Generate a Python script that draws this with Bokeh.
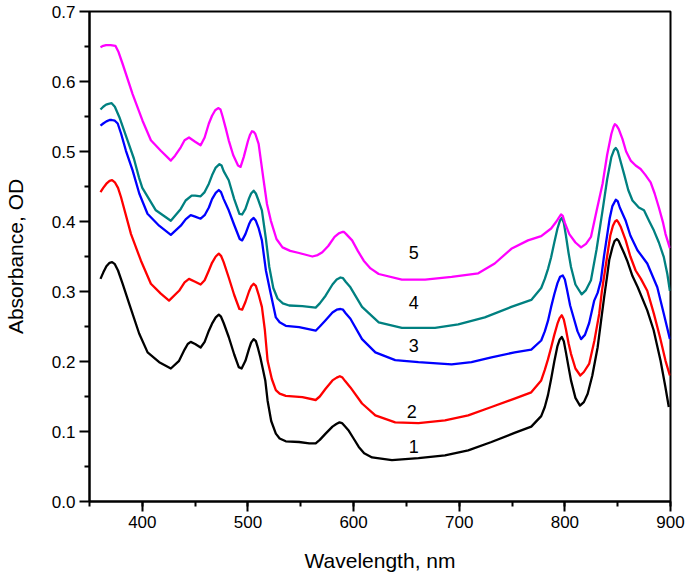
from bokeh.plotting import figure
from bokeh.models import Range1d, FixedTicker, PrintfTickFormatter, ColumnDataSource
from bokeh.embed import file_html
from bokeh.resources import INLINE
from bokeh.core.properties import value

FONT = "Liberation Sans"

# ---- data ----
wl1 = [360.4, 363, 366, 369, 371.4, 374, 377, 381.4, 387.7, 397, 405, 416, 427, 434.8, 440, 443, 445.8, 450, 455.2,
       459, 463, 466, 469.5, 472.4, 474.5, 477, 481.8, 487, 491.3, 494, 497.6, 501, 503, 505.4, 507.5, 509.5, 511.7,
       514, 516.4, 518.6, 522, 526.4, 530, 535.8, 548.4, 558, 564.1, 568, 573.5, 580, 584, 586.7, 589, 592,
       595.5, 600, 604.9, 610, 617.5, 636.3, 661.4, 686.5, 708.5, 730.5, 752.4, 768.2, 777.6, 781, 784, 787,
       790, 793, 795, 797.1, 799, 801, 803.5, 805.8, 810, 814.3, 818, 821.6, 826, 831, 834, 837.2, 840, 842,
       845, 847, 849.2, 851, 853, 856, 859, 864, 869, 878, 884, 890.6, 895, 898.4]
od1 = [0.318, 0.327, 0.336, 0.341, 0.342, 0.339, 0.330, 0.311, 0.282, 0.240, 0.213, 0.199, 0.190, 0.201, 0.217,
       0.225, 0.228, 0.225, 0.220, 0.228, 0.244, 0.254, 0.263, 0.267, 0.264, 0.255, 0.235, 0.210, 0.192, 0.190,
       0.201, 0.218, 0.227, 0.232, 0.229, 0.219, 0.206, 0.190, 0.173, 0.144, 0.115, 0.097, 0.090, 0.086, 0.085,
       0.083, 0.083, 0.088, 0.097, 0.107, 0.111, 0.113, 0.112, 0.107, 0.101, 0.090, 0.078, 0.069, 0.063, 0.059,
       0.062, 0.066, 0.073, 0.085, 0.098, 0.107, 0.122, 0.135, 0.152, 0.175, 0.200, 0.222, 0.231, 0.235, 0.229,
       0.213, 0.192, 0.173, 0.148, 0.137, 0.142, 0.154, 0.180, 0.220, 0.255, 0.292, 0.322, 0.345, 0.363, 0.372,
       0.375, 0.372, 0.365, 0.355, 0.344, 0.322, 0.306, 0.273, 0.245, 0.201, 0.165, 0.135]

wl2 = [360.4, 363, 366, 369, 371.4, 374, 377, 379.8, 389.3, 398.7, 408.1, 417.5, 425.3, 434.8, 440, 444.2, 450,
       455.2, 459, 463, 466, 469.5, 472.4, 474.5, 477, 481.8, 487, 491.9, 494.5, 497.6, 501, 503, 505.4, 507.5,
       510, 513.2, 516, 518.6, 522.6, 526.4, 530, 535.8, 551.5, 564.1, 568, 573.5, 580, 584, 587, 589.5, 592,
       597, 608, 620.6, 639.4, 661.4, 686.5, 708.5, 730.5, 752.4, 768.2, 777.6, 781, 784, 787, 790, 793, 795,
       797.1, 799, 801, 803.5, 805.8, 810, 814.6, 818, 823.1, 828, 832.5, 835, 838, 841, 843, 845.5, 847.5,
       849.2, 851, 853, 857.6, 862, 867, 872, 878, 884.3, 890, 895.3, 899.4]
od2 = [0.442, 0.448, 0.454, 0.458, 0.459, 0.456, 0.448, 0.435, 0.382, 0.344, 0.311, 0.297, 0.287, 0.301, 0.313,
       0.318, 0.314, 0.310, 0.316, 0.330, 0.341, 0.350, 0.354, 0.351, 0.342, 0.320, 0.295, 0.275, 0.274, 0.285,
       0.300, 0.307, 0.311, 0.308, 0.296, 0.278, 0.245, 0.201, 0.175, 0.159, 0.154, 0.151, 0.149, 0.145, 0.150,
       0.161, 0.173, 0.177, 0.179, 0.177, 0.172, 0.163, 0.140, 0.123, 0.113, 0.112, 0.116, 0.123, 0.135, 0.147,
       0.156, 0.173, 0.188, 0.203, 0.220, 0.238, 0.254, 0.262, 0.266, 0.260, 0.246, 0.226, 0.211, 0.190, 0.180,
       0.185, 0.197, 0.230, 0.268, 0.300, 0.330, 0.360, 0.380, 0.394, 0.400, 0.402, 0.398, 0.392, 0.373, 0.350,
       0.330, 0.318, 0.301, 0.268, 0.235, 0.201, 0.180]

wl3 = [360.4, 363, 366, 369, 371, 374, 376.7, 380, 384.5, 390.8, 397.1, 404.9, 415.9, 427, 436.4, 441, 445.8,
       450, 455.2, 459, 463, 466, 469.5, 472.4, 474.5, 477, 481.8, 487, 492.2, 494.5, 497.6, 501, 503, 505.4,
       507.5, 510, 513.2, 517, 521.1, 526.4, 530, 535.8, 548.4, 564.1, 568, 573.5, 580, 584, 587.6, 590, 592.5,
       597, 608, 620.6, 639.4, 661.4, 692.8, 711.6, 730.5, 752.4, 768.2, 777.6, 781, 784, 787, 790, 793, 795.5,
       798, 800, 802, 805, 809, 812, 815.3, 819, 823, 827.8, 831, 834, 837, 840, 842.5, 845, 848.2, 850, 852,
       857.6, 862, 868.7, 878, 887.5, 893.7, 899.4]
od3 = [0.537, 0.540, 0.543, 0.545, 0.545, 0.544, 0.540, 0.525, 0.501, 0.473, 0.440, 0.411, 0.394, 0.381, 0.394,
       0.403, 0.409, 0.407, 0.404, 0.409, 0.420, 0.432, 0.441, 0.445, 0.442, 0.432, 0.416, 0.395, 0.375, 0.373,
       0.382, 0.396, 0.402, 0.405, 0.401, 0.391, 0.373, 0.330, 0.300, 0.263, 0.256, 0.251, 0.249, 0.244, 0.250,
       0.259, 0.270, 0.274, 0.275, 0.274, 0.269, 0.261, 0.232, 0.213, 0.202, 0.199, 0.196, 0.199, 0.206, 0.213,
       0.217, 0.230, 0.243, 0.258, 0.278, 0.296, 0.312, 0.321, 0.323, 0.317, 0.303, 0.280, 0.259, 0.243, 0.232,
       0.238, 0.255, 0.287, 0.298, 0.315, 0.350, 0.380, 0.405, 0.422, 0.431, 0.429, 0.420, 0.401, 0.380, 0.359,
       0.340, 0.306, 0.268, 0.232]

wl4 = [360.4, 363, 365.7, 368, 371, 374, 378.3, 386, 392, 397, 400, 412.8, 427, 436.4, 441, 446.7, 450, 455.2,
       459, 463, 466, 469.5, 473, 475, 477, 481.8, 487, 491.9, 494.5, 497.6, 501, 503, 505.4, 507.5, 510, 513.2,
       517, 520.2, 524, 528, 533, 539, 551.5, 564.1, 568, 573.5, 580, 584, 587.6, 590, 592.5, 597, 608, 623.8,
       645.7, 677.1, 699.1, 724.2, 749.3, 768.2, 777.6, 781, 784, 787, 790, 793, 795.5, 797.1, 799, 801, 803.5,
       805.8, 810, 815.9, 820, 824.7, 830, 835.7, 840, 844, 846.5, 848.2, 850, 852, 856, 860, 864, 870, 874.9,
       880, 884.3, 889, 893.7, 897, 899.4]
od4 = [0.560, 0.564, 0.567, 0.568, 0.569, 0.564, 0.549, 0.516, 0.490, 0.462, 0.448, 0.416, 0.401, 0.418, 0.430,
       0.437, 0.437, 0.436, 0.442, 0.454, 0.466, 0.477, 0.482, 0.480, 0.472, 0.459, 0.432, 0.411, 0.410, 0.418,
       0.433, 0.440, 0.444, 0.440, 0.430, 0.416, 0.375, 0.335, 0.305, 0.290, 0.283, 0.280, 0.279, 0.277, 0.283,
       0.294, 0.310, 0.317, 0.320, 0.319, 0.314, 0.306, 0.278, 0.256, 0.248, 0.248, 0.253, 0.263, 0.278, 0.288,
       0.305, 0.318, 0.332, 0.349, 0.370, 0.390, 0.402, 0.405, 0.398, 0.380, 0.355, 0.335, 0.310, 0.296, 0.302,
       0.316, 0.360, 0.416, 0.460, 0.492, 0.502, 0.505, 0.501, 0.490, 0.468, 0.445, 0.430, 0.420, 0.416, 0.400,
       0.387, 0.370, 0.349, 0.325, 0.301]

wl5 = [360.4, 363, 365.7, 370, 374.5, 377.5, 381.4, 390.8, 400.2, 408.1, 417.5, 427, 431, 436.4, 440, 444.2, 450,
       455.2, 459, 463, 466, 469, 471.8, 474, 476, 479, 481.8, 486, 490.6, 493, 496, 500, 502, 503.8, 505.5, 507,
       510.1, 514.8, 518, 521.7, 527, 532.7, 540, 548.4, 561, 566, 570.4, 576, 582, 586, 589.2, 591, 593, 598.6,
       604, 609.6, 616, 623.8, 645.7, 667.7, 692.8, 718, 733.6, 749.3, 765.1, 777.6, 787, 792, 794.5, 796.4, 798,
       800, 804.2, 810, 815.3, 820, 824.7, 830, 835.7, 840, 844, 846, 847.3, 849, 851, 854.5, 858, 862.3, 867,
       871.7, 876, 881.2, 885, 889, 893, 895.3, 899.4]
od5 = [0.649, 0.651, 0.652, 0.652, 0.651, 0.642, 0.625, 0.582, 0.544, 0.516, 0.501, 0.487, 0.494, 0.506, 0.516,
       0.520, 0.514, 0.509, 0.520, 0.540, 0.551, 0.559, 0.562, 0.560, 0.550, 0.533, 0.516, 0.495, 0.480, 0.478,
       0.492, 0.515, 0.524, 0.529, 0.528, 0.525, 0.511, 0.459, 0.425, 0.401, 0.375, 0.363, 0.358, 0.355, 0.350,
       0.352, 0.356, 0.365, 0.378, 0.383, 0.385, 0.385, 0.382, 0.373, 0.358, 0.344, 0.333, 0.325, 0.317, 0.317,
       0.321, 0.326, 0.340, 0.361, 0.373, 0.379, 0.390, 0.400, 0.406, 0.410, 0.408, 0.398, 0.382, 0.370, 0.363,
       0.368, 0.378, 0.415, 0.454, 0.495, 0.525, 0.535, 0.539, 0.537, 0.532, 0.518, 0.500, 0.487, 0.480, 0.475,
       0.467, 0.456, 0.440, 0.420, 0.398, 0.382, 0.362]

colors = ["#000000", "#ff0000", "#0000ff", "#008080", "#ff00ff"]

label_text = ["1", "2", "3", "4", "5"]
label_x = [657, 655, 657, 657, 657]
label_y = [0.078, 0.128, 0.223, 0.285, 0.356]

x_major = [400, 500, 600, 700, 800, 900]
x_minor = [350, 400, 450, 500, 550, 600, 650, 700, 750, 800, 850, 900]
y_major = [0.0, 0.1, 0.2, 0.3, 0.4, 0.5, 0.6, 0.7]
y_minor = [0.05, 0.15, 0.25, 0.35, 0.45, 0.55, 0.65]

# ---- figure ----
p = figure(width=685, height=579, output_backend="svg", toolbar_location=None,
           x_range=Range1d(350, 900), y_range=Range1d(0, 0.7),
           min_border_left=86, min_border_right=15, min_border_top=11, min_border_bottom=78)
p.background_fill_color = "white"
p.border_fill_color = "white"
p.grid.visible = False
p.outline_line_color = "black"
p.outline_line_width = 2

series = [(wl1, od1), (wl2, od2), (wl3, od3), (wl4, od4), (wl5, od5)]
for (xs, ys), c in zip(series, colors):
    p.line(xs, ys, line_color=c, line_width=2.3, line_join="round")

src = ColumnDataSource(dict(x=label_x, y=label_y, t=label_text))
p.text(x="x", y="y", text="t", source=src, text_font=value(FONT), text_font_size="18px",
       text_align="center", text_baseline="middle", text_color="black")

p.xaxis.ticker = FixedTicker(ticks=x_major, minor_ticks=x_minor)
p.yaxis.ticker = FixedTicker(ticks=y_major, minor_ticks=y_minor)
p.yaxis.formatter = PrintfTickFormatter(format="%.1f")

for ax in (p.xaxis, p.yaxis):
    ax.axis_line_width = 2
    ax.axis_line_color = "black"
    ax.major_tick_line_width = 2
    ax.minor_tick_line_width = 2
    ax.major_tick_in = 0
    ax.major_tick_out = 10
    ax.minor_tick_in = 0
    ax.minor_tick_out = 5
    ax.major_label_text_font = FONT
    ax.major_label_text_font_size = "17px"
    ax.major_label_text_color = "black"
    ax.major_label_standoff = 4
    ax.axis_label_text_font = FONT
    ax.axis_label_text_font_size = "21px"
    ax.axis_label_text_font_style = "normal"
    ax.axis_label_text_color = "black"

p.xaxis.axis_label = "Wavelength, nm"
p.yaxis.axis_label = "Absorbance, OD"
p.xaxis.axis_label_standoff = 18
p.yaxis.axis_label_standoff = 22

open("out.html", "w").write(file_html(p, INLINE))
